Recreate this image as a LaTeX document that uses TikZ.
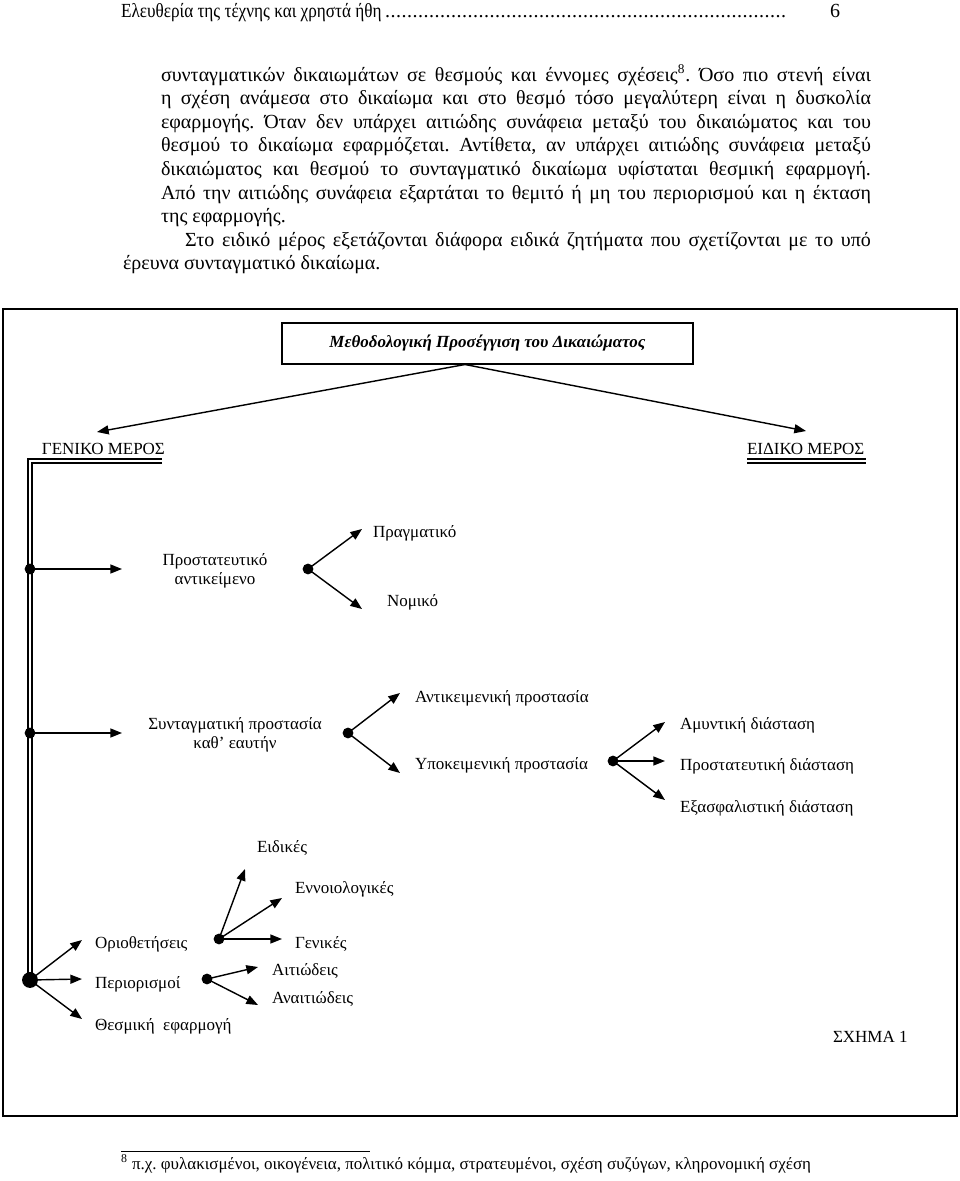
\documentclass[tikz,border=0pt]{standalone}
\usepackage{fontspec}
\setmainfont{Liberation Serif}
\usetikzlibrary{arrows.meta}
\frenchspacing
\begin{document}
\begin{tikzpicture}[x=0.6pt,y=-0.6pt,
  every node/.style={inner sep=0pt, outer sep=0pt},
  body/.style={font=\fontsize{12}{14}\selectfont, anchor=base west},
  lbl/.style={font=\fontsize{10.2}{12}\selectfont, anchor=base west},
  lbltwo/.style={font=\fontsize{10.2}{11.4}\selectfont, align=center, anchor=center},
  dot/.style={circle, fill=black, inner sep=0pt, minimum size=6.5pt},
  bigdot/.style={circle, fill=black, inner sep=0pt, minimum size=9.5pt},
  arr/.style={-{Triangle[length=7pt,width=5.4pt]}, line width=0.85pt},
  dbl/.style={draw=black, double=white, double distance=1.5pt, line width=1pt, line join=miter}
]
\useasboundingbox[fill=white] (0,0) rectangle (960,1181);

% header
\node[body] (hdr) at (121,17) {\makebox[402pt][l]{\scalebox{0.86}[1]{Ελευθερία της τέχνης και χρηστά ήθη}\leaders\hbox to 3.3pt{\hss.\hss}\hfill}};
\node[body] (pagenum) at (830,17) {6};

% body text
\node[body] (l1) at (161,81) {\makebox[426pt][s]{συνταγματικών δικαιωμάτων σε θεσμούς και έννομες σχέσεις\textsuperscript{8}. Όσο πιο στενή είναι}};
\node[body] (l2) at (161,104.6) {\makebox[426pt][s]{η σχέση ανάμεσα στο δικαίωμα και στο θεσμό τόσο μεγαλύτερη είναι η δυσκολία}};
\node[body] (l3) at (161,128.2) {\makebox[426pt][s]{εφαρμογής. Όταν δεν υπάρχει αιτιώδης συνάφεια μεταξύ του δικαιώματος και του}};
\node[body] (l4) at (161,151.8) {\makebox[426pt][s]{θεσμού το δικαίωμα εφαρμόζεται. Αντίθετα, αν υπάρχει αιτιώδης συνάφεια μεταξύ}};
\node[body] (l5) at (161,175.4) {\makebox[426pt][s]{δικαιώματος και θεσμού το συνταγματικό δικαίωμα υφίσταται θεσμική εφαρμογή.}};
\node[body] (l6) at (161,199) {\makebox[426pt][s]{Από την αιτιώδης συνάφεια εξαρτάται το θεμιτό ή μη του περιορισμού και η έκταση}};
\node[body] (l7) at (161,222.6) {της εφαρμογής.};
\node[body] (l8) at (185,246.2) {\makebox[411.6pt][s]{Στο ειδικό μέρος εξετάζονται διάφορα ειδικά ζητήματα που σχετίζονται με το υπό}};
\node[body] (l9) at (123,269.8) {έρευνα συνταγματικό δικαίωμα.};

% frame
\draw[line width=0.9pt] (3,309) rectangle (957,1116);

% title
\node[draw, line width=0.85pt, minimum width=246.6pt, minimum height=24.6pt,
      font=\fontsize{10.2}{12}\selectfont\bfseries\itshape] (title) at (487.5,343.5)
      {Μεθοδολογική Προσέγγιση του Δικαιώματος};
\coordinate (split) at (465,364.5);
\coordinate (tipG) at (97,432);
\coordinate (tipE) at (806,431);
\draw[arr] (split) -- (tipG);
\draw[arr] (split) -- (tipE);

\node[lbl] (gen) at (42,454) {ΓΕΝΙΚΟ ΜΕΡΟΣ};
\node[lbl] (eid) at (747,454) {ΕΙΔΙΚΟ ΜΕΡΟΣ};

\coordinate (gul) at (162,461);
\coordinate (gcorner) at (30,461);
\coordinate (eul1) at (747,461);
\coordinate (eul2) at (866,461);
\draw[dbl] (gul) -- (gcorner) -- (30,980);
\draw[dbl] (eul1) -- (eul2);

% branch 1
\node[dot] (d1) at (30,569) {};
\coordinate (t1) at (122,569);
\draw[arr] (d1.center) -- (t1);
\node[lbltwo] (prostat) at (215,571) {Προστατευτικό\\αντικείμενο};
\node[dot] (d1b) at (308,569) {};
\coordinate (t1a) at (362,529);
\coordinate (t1b) at (362,609);
\draw[arr] (d1b.center) -- (t1a);
\draw[arr] (d1b.center) -- (t1b);
\node[lbl] (pragm) at (373,537) {Πραγματικό};
\node[lbl] (nomiko) at (387,606) {Νομικό};

% branch 2
\node[dot] (d2) at (30,733) {};
\coordinate (t2) at (122,733);
\draw[arr] (d2.center) -- (t2);
\node[lbltwo] (syntag) at (235,735) {Συνταγματική προστασία\\καθ’ εαυτήν};
\node[dot] (d2b) at (348,733) {};
\coordinate (t2a) at (400,693);
\coordinate (t2b) at (400,773);
\draw[arr] (d2b.center) -- (t2a);
\draw[arr] (d2b.center) -- (t2b);
\node[lbl] (antik) at (415,702) {Αντικειμενική προστασία};
\node[lbl] (ypok) at (415,769) {Υποκειμενική προστασία};
\node[dot] (d2c) at (613,761) {};
\coordinate (t2c) at (665,722);
\coordinate (t2d) at (665,761);
\coordinate (t2e) at (665,800);
\draw[arr] (d2c.center) -- (t2c);
\draw[arr] (d2c.center) -- (t2d);
\draw[arr] (d2c.center) -- (t2e);
\node[lbl] (amynt) at (680,729) {Αμυντική διάσταση};
\node[lbl] (prost) at (680,770) {Προστατευτική διάσταση};
\node[lbl] (exasf) at (680,812) {Εξασφαλιστική διάσταση};

% branch 3
\node[bigdot] (d3) at (30,980) {};
\coordinate (t3a) at (82,940);
\coordinate (t3b) at (82,979);
\coordinate (t3c) at (82,1019);
\draw[arr] (d3.center) -- (t3a);
\draw[arr] (d3.center) -- (t3b);
\draw[arr] (d3.center) -- (t3c);
\node[lbl] (orio) at (95,948) {Οριοθετήσεις};
\node[lbl] (perio) at (95,988) {Περιορισμοί};
\node[lbl] (thesm) at (95,1030) {Θεσμική\ \ εφαρμογή};

\node[dot] (d3a) at (219,939) {};
\coordinate (t3d) at (245,869);
\coordinate (t3e) at (282,898);
\coordinate (t3f) at (282,939);
\draw[arr] (d3a.center) -- (t3d);
\draw[arr] (d3a.center) -- (t3e);
\draw[arr] (d3a.center) -- (t3f);
\node[lbl] (eidikes) at (257,852) {Ειδικές};
\node[lbl] (ennoi) at (295,893) {Εννοιολογικές};
\node[lbl] (genikes) at (295,948) {Γενικές};

\node[dot] (d3b) at (207,979) {};
\coordinate (t3g) at (258,967);
\coordinate (t3h) at (258,1005);
\draw[arr] (d3b.center) -- (t3g);
\draw[arr] (d3b.center) -- (t3h);
\node[lbl] (aitiod) at (272,975) {Αιτιώδεις};
\node[lbl] (anaitiod) at (272,1003) {Αναιτιώδεις};

\node[lbl] (schema) at (833,1042) {ΣΧΗΜΑ 1};

% footnote
\coordinate (fr1) at (121,1151);
\coordinate (fr2) at (370,1151);
\draw[line width=0.5pt] (fr1) -- (fr2);
\node[lbl, font=\fontsize{10.2}{12}\selectfont] (foot) at (121,1169) {\textsuperscript{8} π.χ. φυλακισμένοι, οικογένεια, πολιτικό κόμμα, στρατευμένοι, σχέση συζύγων, κληρονομική σχέση};
\end{tikzpicture}
\end{document}
